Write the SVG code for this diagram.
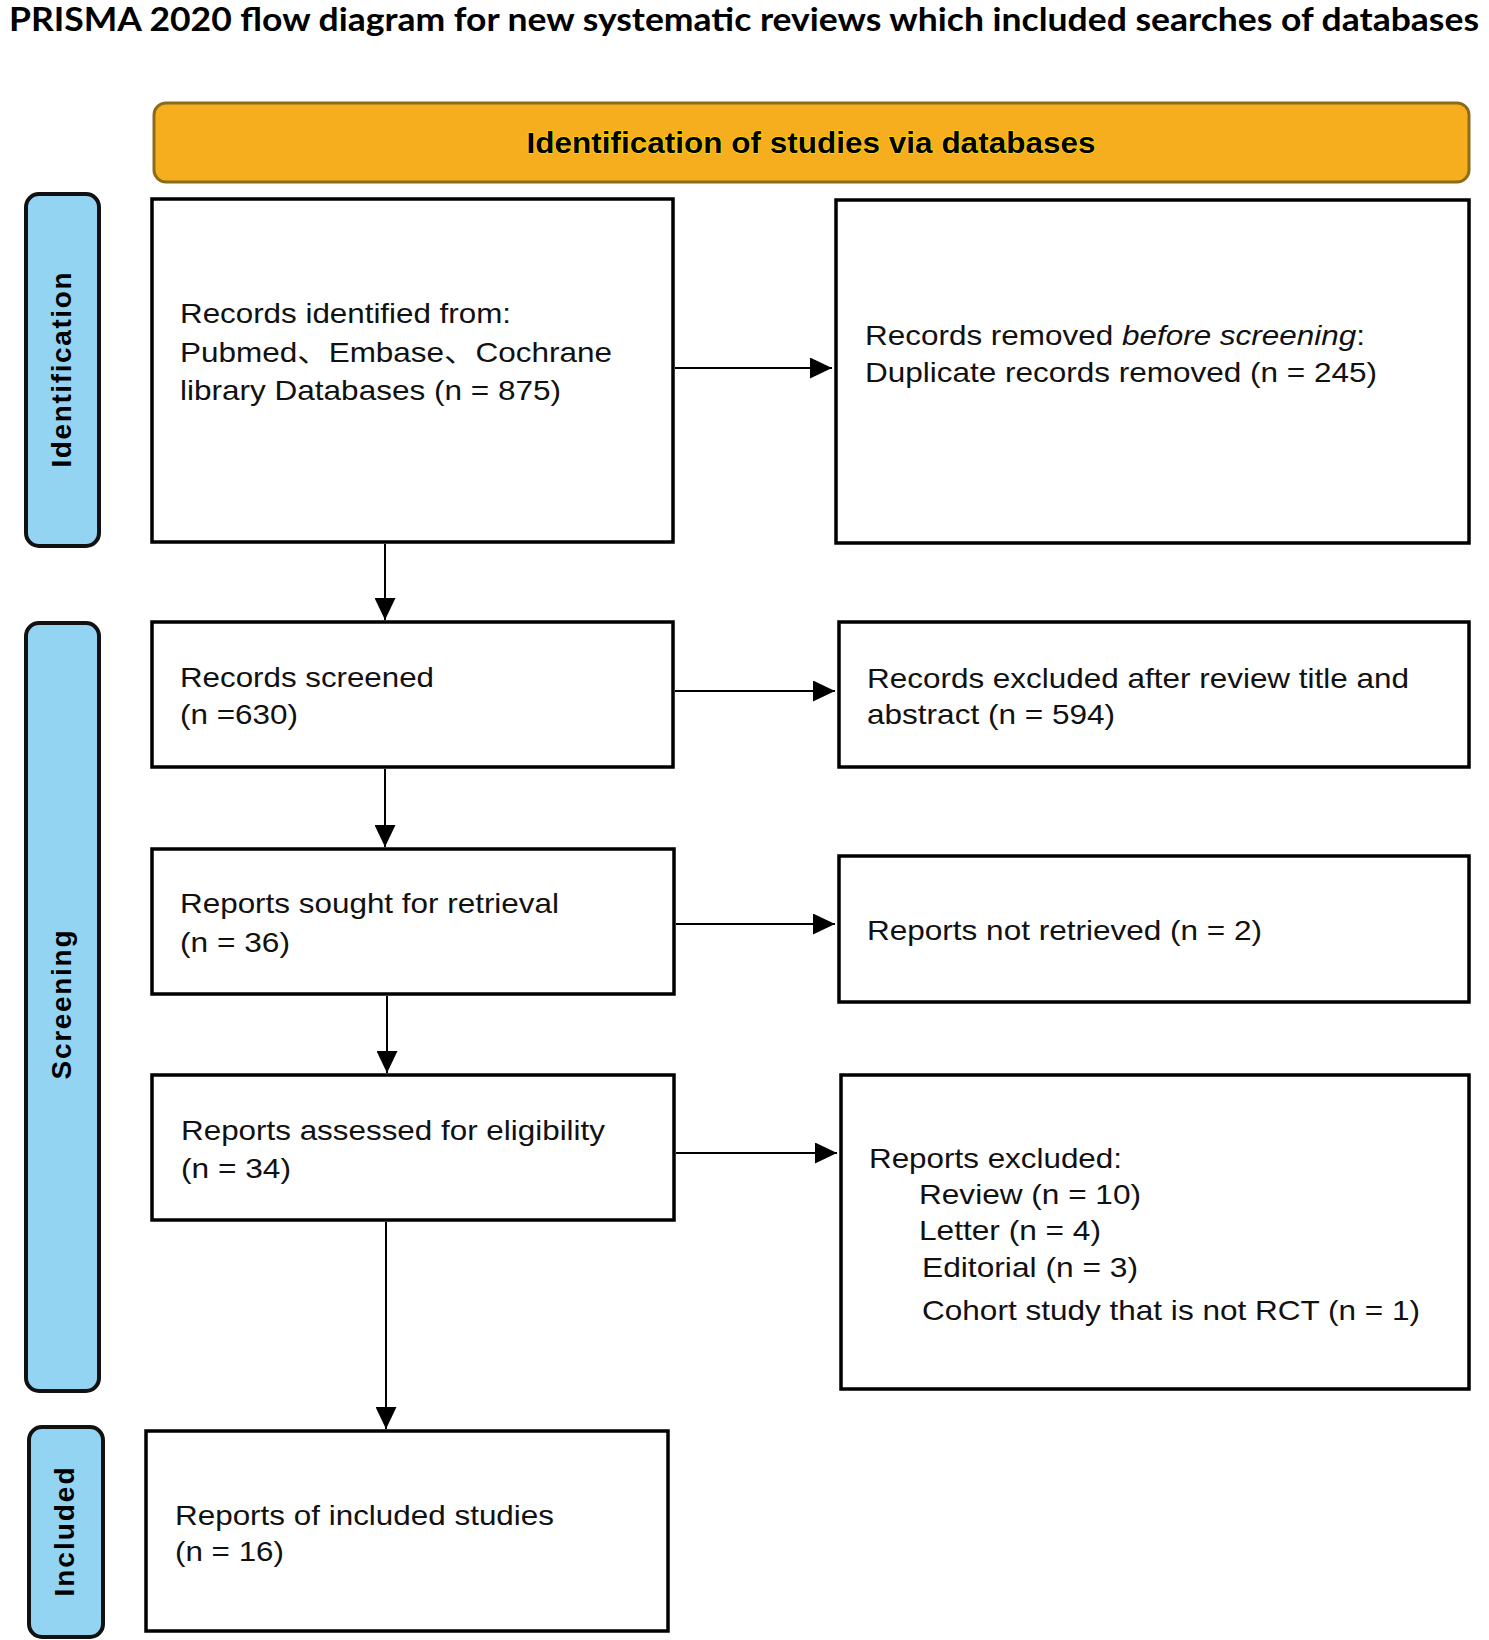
<svg xmlns="http://www.w3.org/2000/svg" width="1489" height="1640" viewBox="0 0 1489 1640">
<style>
.box{fill:#fff;stroke:#000;stroke-width:3.5}
.side{fill:#94d4f3;stroke:#111;stroke-width:4}
.t{font-family:"Liberation Sans",Arial,sans-serif;font-size:28px;fill:#111}
.st{font-family:"Liberation Sans",Arial,sans-serif;font-size:28px;font-weight:bold;fill:#000;text-anchor:middle}
.conn line{stroke:#000;stroke-width:2;marker-end:url(#ah)}
</style>
<defs>
<marker id="ah" markerUnits="userSpaceOnUse" markerWidth="22" markerHeight="21" refX="22" refY="10.5" orient="auto">
<path d="M0,0 L22,10.5 L0,21 z" fill="#000"/>
</marker>
</defs>
<rect width="1489" height="1640" fill="#fff"/>
<text x="744" y="31" text-anchor="middle" font-family="Lato,'Open Sans',sans-serif" font-weight="bold" font-size="32" textLength="1470" lengthAdjust="spacingAndGlyphs" fill="#000">PRISMA 2020 flow diagram for new systematic reviews which included searches of databases</text>

<g id="header">
<rect x="154" y="103" width="1315" height="79" rx="12" fill="#f7ae1e" stroke="#8a6d1a" stroke-width="3"/>
<text x="811" y="153" font-family="'Liberation Sans',Arial,sans-serif" font-weight="bold" font-size="30" text-anchor="middle" textLength="569" lengthAdjust="spacingAndGlyphs" fill="#000" stroke="#ffe800" stroke-width="1.2" paint-order="stroke">Identification of studies via databases</text>
</g>

<g id="side-identification">
<rect class="side" x="26" y="194" width="73" height="352" rx="13"/>
<text class="st" transform="translate(71,370) rotate(-90)" textLength="195" lengthAdjust="spacing">Identification</text>
</g>
<g id="side-screening">
<rect class="side" x="26" y="623" width="73" height="768" rx="13"/>
<text class="st" transform="translate(71,1005) rotate(-90)" textLength="149" lengthAdjust="spacing">Screening</text>
</g>
<g id="side-included">
<rect class="side" x="29" y="1427" width="74" height="210" rx="13"/>
<text class="st" transform="translate(74,1532) rotate(-90)" textLength="129" lengthAdjust="spacing">Included</text>
</g>

<g id="box-identified">
<rect class="box" x="152" y="199" width="521" height="343"/>
<text class="t" x="180" y="323" textLength="331" lengthAdjust="spacingAndGlyphs">Records identified from:</text>
<text class="t" x="180" y="362" textLength="432" lengthAdjust="spacingAndGlyphs">Pubmed<tspan font-family="'Noto Sans CJK SC',sans-serif">、</tspan>Embase<tspan font-family="'Noto Sans CJK SC',sans-serif">、</tspan>Cochrane</text>
<text class="t" x="180" y="400" textLength="381" lengthAdjust="spacingAndGlyphs">library Databases (n = 875)</text>
</g>

<g id="box-removed">
<rect class="box" x="836" y="200" width="633" height="343"/>
<text class="t" x="865" y="345" textLength="500" lengthAdjust="spacingAndGlyphs">Records removed <tspan font-style="italic">before screening</tspan>:</text>
<text class="t" x="865" y="382" textLength="512" lengthAdjust="spacingAndGlyphs">Duplicate records removed (n = 245)</text>
</g>

<g id="box-screened">
<rect class="box" x="152" y="622" width="521" height="145"/>
<text class="t" x="180" y="687" textLength="254" lengthAdjust="spacingAndGlyphs">Records screened</text>
<text class="t" x="180" y="724" textLength="118" lengthAdjust="spacingAndGlyphs">(n =630)</text>
</g>

<g id="box-excluded">
<rect class="box" x="839" y="622" width="630" height="145"/>
<text class="t" x="867" y="688" textLength="542" lengthAdjust="spacingAndGlyphs">Records excluded after review title and</text>
<text class="t" x="867" y="724" textLength="248" lengthAdjust="spacingAndGlyphs">abstract (n = 594)</text>
</g>

<g id="box-sought">
<rect class="box" x="152" y="849" width="522" height="145"/>
<text class="t" x="180" y="913" textLength="379" lengthAdjust="spacingAndGlyphs">Reports sought for retrieval</text>
<text class="t" x="180" y="952" textLength="110" lengthAdjust="spacingAndGlyphs">(n = 36)</text>
</g>

<g id="box-notretrieved">
<rect class="box" x="839" y="856" width="630" height="146"/>
<text class="t" x="867" y="940" textLength="395" lengthAdjust="spacingAndGlyphs">Reports not retrieved (n = 2)</text>
</g>

<g id="box-assessed">
<rect class="box" x="152" y="1075" width="522" height="145"/>
<text class="t" x="181" y="1140" textLength="424" lengthAdjust="spacingAndGlyphs">Reports assessed for eligibility</text>
<text class="t" x="181" y="1178" textLength="110" lengthAdjust="spacingAndGlyphs">(n = 34)</text>
</g>

<g id="box-reportsexcluded">
<rect class="box" x="841" y="1075" width="628" height="314"/>
<text class="t" x="869" y="1168" textLength="253" lengthAdjust="spacingAndGlyphs">Reports excluded:</text>
<text class="t" x="919" y="1204" textLength="222" lengthAdjust="spacingAndGlyphs">Review (n = 10)</text>
<text class="t" x="919" y="1240" textLength="182" lengthAdjust="spacingAndGlyphs">Letter (n = 4)</text>
<text class="t" x="922" y="1277" textLength="216" lengthAdjust="spacingAndGlyphs">Editorial (n = 3)</text>
<text class="t" x="922" y="1320" textLength="498" lengthAdjust="spacingAndGlyphs">Cohort study that is not RCT (n = 1)</text>
</g>

<g id="box-included">
<rect class="box" x="146" y="1431" width="522" height="200"/>
<text class="t" x="175" y="1525" textLength="379" lengthAdjust="spacingAndGlyphs">Reports of included studies</text>
<text class="t" x="175" y="1561" textLength="109" lengthAdjust="spacingAndGlyphs">(n = 16)</text>
</g>

<g id="connectors" class="conn">
<line x1="675" y1="368" x2="832" y2="368"/>
<line x1="675" y1="691" x2="835" y2="691"/>
<line x1="676" y1="924" x2="835" y2="924"/>
<line x1="676" y1="1153" x2="837" y2="1153"/>
<line x1="385" y1="544" x2="385" y2="620"/>
<line x1="385" y1="769" x2="385" y2="847"/>
<line x1="387" y1="996" x2="387" y2="1073"/>
<line x1="386" y1="1222" x2="386" y2="1429"/>
</g>
</svg>
